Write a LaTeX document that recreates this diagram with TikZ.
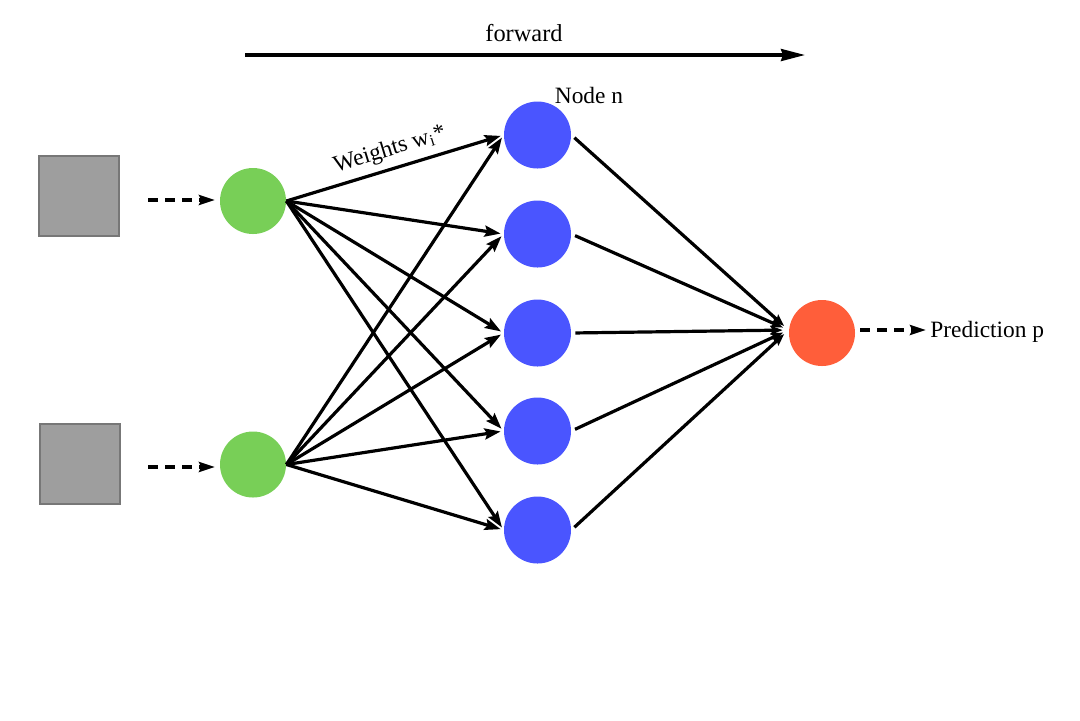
\documentclass[tikz,border=0pt]{standalone}
\usepackage{fontspec}
\setmainfont{Liberation Serif}
\usetikzlibrary{arrows.meta}
\definecolor{sqfill}{HTML}{9E9E9E}
\definecolor{sqdraw}{HTML}{777777}
\definecolor{grn}{HTML}{78CF57}
\definecolor{blu}{HTML}{4A55FF}
\definecolor{rd}{HTML}{FF5E3A}
\tikzset{
  inbox/.style={draw=sqdraw, line width=1pt, fill=sqfill, minimum size=40pt, inner sep=0pt},
  gnode/.style={circle, fill=grn, minimum size=33pt, inner sep=0pt},
  bnode/.style={circle, fill=blu, minimum size=33.5pt, inner sep=0pt},
  rnode/.style={circle, fill=rd, minimum size=33pt, inner sep=0pt},
  conn/.style={line width=1.6pt, -{Stealth[length=8pt,width=5.5pt,inset=1.2pt]}, shorten >=1.5pt},
  dconn/.style={line width=1.8pt, dash pattern=on 5pt off 3.5pt, -{Stealth[length=8pt,width=5pt,inset=1.2pt]}},
  outl/.style={line width=1.6pt, -{Stealth[length=6pt,width=4.5pt,inset=1pt]}, shorten <=2pt, shorten >=3pt},
  lbl/.style={font=\fontsize{11.7pt}{14pt}\selectfont, inner sep=0pt}
}
\begin{document}
\begin{tikzpicture}[x=0.5pt, y=-0.5pt]
\useasboundingbox (0,0) rectangle (1080,720);
% inputs
\node[inbox] (s1) at (78.5,195.5) {};
\node[inbox] (s2) at (79.5,463.5) {};
\coordinate (d1s) at (148,200);
\coordinate (d1e) at (215,200);
\coordinate (d2s) at (148,467);
\coordinate (d2e) at (215,467);
\node[gnode] (g1) at (253,201) {};
\node[gnode] (g2) at (253,464.5) {};
\draw[dconn] (d1s) -- (d1e);
\draw[dconn] (d2s) -- (d2e);
% hidden
\node[bnode] (b1) at (537.5,135) {};
\node[bnode] (b2) at (537.5,234) {};
\node[bnode] (b3) at (537.5,333) {};
\node[bnode] (b4) at (537.5,431) {};
\node[bnode] (b5) at (537.5,530) {};
% output
\node[rnode] (r) at (822,333) {};
\foreach \g in {g1,g2}{
  \foreach \b in {b1,b2,b3,b4,b5}{
    \draw[conn] (\g.east) -- (\b.west);
  }
}
\foreach \b in {b1,b2,b3,b4,b5}{
  \draw[outl] (\b.east) -- ([yshift=1.5pt]r.west);
}
\coordinate (ps) at (860,330);
\coordinate (pe) at (926,330);
\draw[dconn] (ps) -- (pe);
\node[lbl, anchor=west] (pred) at (930,332) {Prediction p};
% labels
\node[lbl] (nn) at (589,95) {Node n};
\node[lbl, rotate=17] (wl) at (390,150) {Weights w\textsubscript{i}*};
% forward
\coordinate (fs) at (245,55);
\coordinate (fe) at (805,55);
\draw[line width=1.6pt, -{Stealth[length=12pt,width=6pt,inset=1pt]}] (fs) -- (fe);
\node[lbl, font=\fontsize{12.2pt}{14pt}\selectfont] (fw) at (524,33) {forward};
\end{tikzpicture}
\end{document}
